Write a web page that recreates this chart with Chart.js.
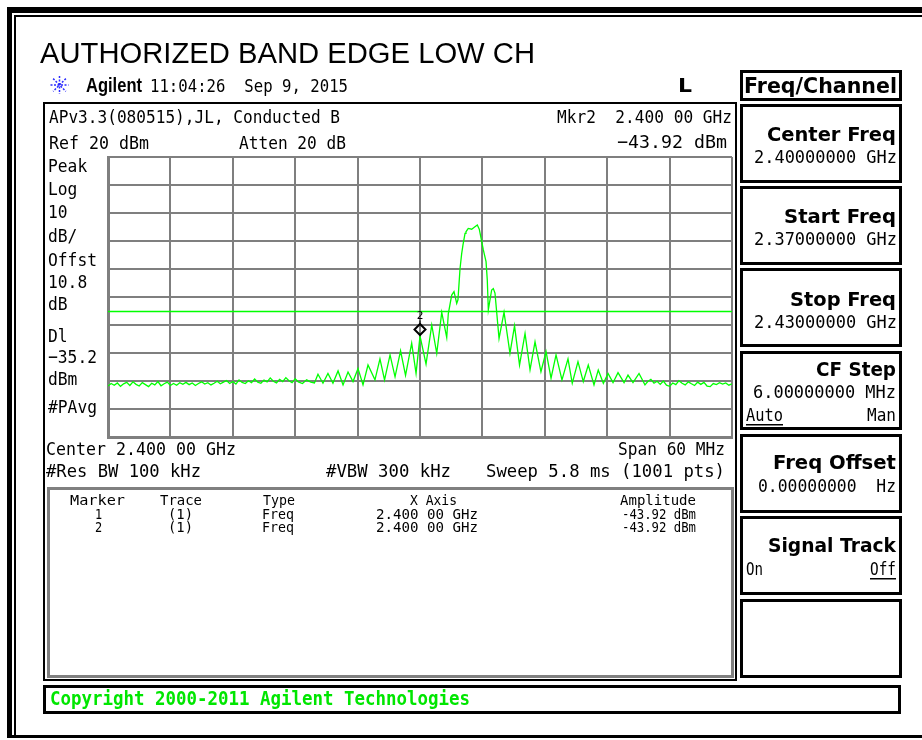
<!DOCTYPE html>
<html><head><meta charset="utf-8">
<style>html,body{margin:0;padding:0;background:#fff;overflow:hidden}canvas{display:block}</style>
<script src="https://cdn.jsdelivr.net/npm/chart.js@4.4.0/dist/chart.umd.min.js"></script>
</head><body><canvas id="c" width="922" height="740"></canvas>
<script>
// ---- data ----
const titleText = 'AUTHORIZED BAND EDGE LOW CH';
const startMHz = 2370, stopMHz = 2430, mhzPerDiv = 6;
const refLevel = 20, bottomLevel = -80, dbPerDiv = 10;
const displayLineDbm = -35.2;
const markerMHz = 2400.0, markerDbm = -43.92;

const traceMHz = [
 2370.0,2370.3,2370.6,2370.9,2371.2,2371.5,2371.8,2372.1,2372.4,2372.7,
 2373.0,2373.3,2373.6,2373.9,2374.2,2374.5,2374.8,2375.1,2375.4,2375.7,
 2376.0,2376.3,2376.6,2376.9,2377.2,2377.5,2377.8,2378.1,2378.4,2378.7,
 2379.0,2379.3,2379.6,2379.9,2380.2,2380.5,2380.8,2381.1,2381.4,2381.7,
 2382.0,2382.3,2382.6,2382.9,2383.2,2383.5,2383.8,2384.1,2384.4,2384.7,
 2385.0,2385.3,2385.6,2385.9,2386.2,2386.5,2386.8,2387.1,2387.4,2387.7,2388.0,
 2388.3,2388.7,2389.1,2389.5,2389.85,
 2390.19,2390.67,2391.15,2391.63,2392.12,2392.60,2393.08,2393.56,2394.04,2394.52,
 2395.00,2395.67,2396.15,2396.59,2397.12,2397.60,2398.13,2398.61,2399.20,2399.62,
 2400.00,2400.58,2401.13,2401.61,2402.09,2402.57,2402.72,2403.05,2403.27,2403.53,
 2403.65,2403.85,2404.01,2404.13,2404.33,2404.42,2404.64,2404.97,2405.22,2405.51,
 2405.70,2405.87,2406.09,2406.35,2406.47,2406.57,2406.89,2407.05,2407.21,2407.60,
 2408.08,2408.65,2409.09,2409.57,2410.10,2410.58,2411.06,2411.63,2412.12,2412.60,
 2413.08,2413.65,2414.23,2414.64,2415.19,2415.70,2416.18,2416.73,2417.14,2417.63,
 2418.08,2418.56,2419.04,2419.62,2420.00,2420.48,2421.06,2421.63,
 2421.9,2422.2,2422.5,2422.8,2423.1,2423.4,2423.7,2424.0,2424.3,2424.6,
 2424.9,2425.2,2425.5,2425.8,2426.1,2426.4,2426.7,2427.0,2427.3,2427.6,
 2427.9,2428.2,2428.5,2428.8,2429.1,2429.4,2429.7,2430.0
];
const traceDbm = [
 -61.8,-60.9,-61.5,-60.7,-61.9,-61.0,-60.5,-61.6,-60.3,-61.2,
 -61.8,-60.6,-61.3,-62.0,-60.8,-61.4,-60.2,-61.7,-61.0,-60.4,
 -61.6,-60.9,-61.5,-60.6,-61.2,-60.5,-61.3,-60.7,-61.6,-60.9,
 -60.3,-61.1,-60.6,-61.4,-60.8,-60.1,-61.0,-60.4,-59.8,-60.9,
 -60.2,-61.1,-59.6,-60.5,-60.9,-59.9,-60.6,-59.3,-60.4,-60.8,
 -59.7,-60.3,-58.9,-60.1,-60.7,-59.4,-60.2,-58.8,-59.9,-60.6,-59.2,
 -60.3,-60.9,-59.6,-60.4,-60.7,
 -57.6,-60.8,-57.3,-60.8,-56.4,-61.4,-56.8,-60.2,-55.5,-61.4,
 -54.3,-59.6,-52.1,-59.6,-50.7,-58.5,-49.2,-58.0,-46.5,-57.3,
 -43.92,-54.0,-40.0,-50.1,-35.5,-44.5,-36.0,-29.3,-28.1,-32.3,
 -31.0,-19.8,-14.4,-11.5,-7.3,-6.7,-5.5,-5.8,-5.1,-4.3,
 -5.8,-9.0,-13.2,-17.4,-23.9,-34.6,-27.5,-27.0,-28.6,-44.8,
 -35.4,-50.1,-40.3,-54.3,-43.0,-56.0,-46.0,-56.7,-49.5,-59.0,
 -50.7,-59.6,-52.1,-60.8,-53.1,-60.2,-54.3,-61.4,-56.1,-60.8,
 -57.3,-60.6,-57.0,-60.6,-57.9,-60.6,-57.3,-61.4,
 -60.2,-59.4,-60.8,-60.1,-61.2,-60.0,-61.5,-61.9,-60.7,-61.3,
 -59.9,-60.8,-61.4,-60.3,-61.0,-61.6,-60.4,-61.2,-60.5,-61.8,
 -62.0,-60.9,-61.3,-60.6,-61.1,-60.7,-61.5,-61.0
];

// ---- drawing helpers ----
const MONO = '"DejaVu Sans Mono", monospace';
const SANS = '"DejaVu Sans", sans-serif';
const ARIAL = '"Liberation Sans", Arial, sans-serif';

function T(ctx, s, x, y, o) {
  o = o || {};
  ctx.save();
  ctx.font = (o.b ? 'bold ' : '') + (o.size || 18.5) + 'px ' + (o.f || MONO);
  ctx.fillStyle = o.c || '#000';
  ctx.textBaseline = 'alphabetic';
  ctx.textAlign = 'left';
  const m = ctx.measureText(s).width;
  const sx = o.w ? o.w / m : (o.sx || 0.88);
  const W = m * sx;
  const x0 = o.a === 'r' ? x - W : (o.a === 'c' ? x - W / 2 : x);
  ctx.translate(x0, y);
  ctx.scale(sx, 1);
  ctx.fillText(s, 0, 0);
  ctx.restore();
}

const instrument = {
  id: 'instrument',
  afterDraw(chart) {
    const ctx = chart.ctx;
    ctx.save();
    // outer frame
    ctx.fillStyle = '#000';
    ctx.fillRect(7, 7, 915, 6);
    ctx.fillRect(7, 7, 5, 731);
    ctx.fillRect(14, 15, 908, 2);
    ctx.fillRect(14, 15, 2, 720);
    ctx.fillRect(7, 735, 915, 3);

    // title
    T(ctx, titleText, 40, 63, {f: ARIAL, size: 30, w: 495});

    // Agilent logo (snowflake)
    ctx.save();
    ctx.strokeStyle = '#2b2bff'; ctx.lineWidth = 1.5; ctx.setLineDash([2, 1.5]);
    const cx = 59.5, cy = 85, r = 9;
    for (let k = 0; k < 4; k++) {
      const a = k * Math.PI / 4;
      ctx.beginPath();
      ctx.moveTo(cx - r * Math.cos(a), cy - r * Math.sin(a));
      ctx.lineTo(cx + r * Math.cos(a), cy + r * Math.sin(a));
      ctx.stroke();
    }
    ctx.restore();
    T(ctx, 'Agilent', 86, 92, {f: ARIAL, b: true, size: 20, w: 56});
    T(ctx, '11:04:26  Sep 9, 2015', 150, 92, {w: 198});
    T(ctx, 'L', 678, 92, {f: SANS, b: true, size: 20, w: 14});

    // screen box
    ctx.strokeStyle = '#000'; ctx.lineWidth = 2;
    ctx.strokeRect(44, 103, 692, 577);

    // screen annotations
    T(ctx, 'APv3.3(080515),JL, Conducted B', 49, 123, {w: 291});
    T(ctx, 'Mkr2  2.400 00 GHz', 732, 123, {w: 175, a: 'r'});
    T(ctx, 'Ref 20 dBm', 49, 149, {w: 100});
    T(ctx, 'Atten 20 dB', 239, 149, {w: 107});
    T(ctx, '\u221243.92 dBm', 727, 148, {w: 110, a: 'r'});
    const leftLabels = [['Peak',172],['Log',195],['10',218],['dB/',242],['Offst',266],
      ['10.8',288],['dB',310],['Dl',342],['\u221235.2',363],['dBm',385],['#PAvg',413]];
    leftLabels.forEach(([s, y]) => T(ctx, s, 48, y));
    T(ctx, 'Center 2.400 00 GHz', 46, 455, {w: 190});
    T(ctx, 'Span 60 MHz', 725, 455, {w: 107, a: 'r'});
    T(ctx, '#Res BW 100 kHz', 46, 477, {w: 155});
    T(ctx, '#VBW 300 kHz', 326, 477, {w: 125});
    T(ctx, 'Sweep 5.8 ms (1001 pts)', 725, 477, {w: 239, a: 'r'});

    // marker table
    ctx.strokeStyle = '#808080'; ctx.lineWidth = 3;
    ctx.strokeRect(48.5, 488.5, 684, 188);
    const ts = 13.5;
    T(ctx, 'Marker', 70, 505, {size: ts, w: 55});
    T(ctx, 'Trace', 160, 505, {size: ts, w: 42});
    T(ctx, 'Type', 263, 505, {size: ts, w: 32});
    T(ctx, 'X Axis', 410, 505, {size: ts, w: 47});
    T(ctx, 'Amplitude', 620, 505, {size: ts, w: 76});
    [['1', 519], ['2', 532]].forEach(([m, y]) => {
      T(ctx, m, 95, y, {size: ts});
      T(ctx, '(1)', 168, y, {size: ts, w: 25});
      T(ctx, 'Freq', 262, y, {size: ts, w: 32});
      T(ctx, '2.400 00 GHz', 376, y, {size: ts, w: 102});
      T(ctx, '-43.92 dBm', 622, y, {size: ts, w: 74});
    });

    // softkeys
    ctx.strokeStyle = '#000'; ctx.lineWidth = 3;
    ctx.strokeRect(741.5, 71.5, 159, 28);
    T(ctx, 'Freq/Channel', 744, 93, {f: SANS, b: true, size: 21, w: 153});
    [105, 187, 269, 352, 435, 517, 600].forEach(t => ctx.strokeRect(741.5, t + 0.5, 159, 76));
    const KR = 896;
    T(ctx, 'Center Freq', KR, 141, {f: SANS, b: true, size: 20, w: 129, a: 'r'});
    T(ctx, '2.40000000 GHz', KR + 1, 163, {w: 143, a: 'r'});
    T(ctx, 'Start Freq', KR, 223, {f: SANS, b: true, size: 20, w: 112, a: 'r'});
    T(ctx, '2.37000000 GHz', KR + 1, 245, {w: 143, a: 'r'});
    T(ctx, 'Stop Freq', KR, 306, {f: SANS, b: true, size: 20, w: 106, a: 'r'});
    T(ctx, '2.43000000 GHz', KR + 1, 328, {w: 143, a: 'r'});
    T(ctx, 'CF Step', KR, 376, {f: SANS, b: true, size: 20, w: 80, a: 'r'});
    T(ctx, '6.00000000 MHz', KR, 398, {w: 143, a: 'r'});
    T(ctx, 'Auto', 746, 421, {w: 37});
    ctx.fillStyle = '#000'; ctx.fillRect(746, 424, 37, 1.5);
    T(ctx, 'Man', KR, 421, {w: 29, a: 'r'});
    T(ctx, 'Freq Offset', KR, 469, {f: SANS, b: true, size: 20, w: 123, a: 'r'});
    T(ctx, '0.00000000  Hz', KR, 492, {w: 138, a: 'r'});
    T(ctx, 'Signal Track', KR, 552, {f: SANS, b: true, size: 20, w: 128, a: 'r'});
    T(ctx, 'On', 746, 575, {w: 17});
    T(ctx, 'Off', KR, 575, {w: 26, a: 'r'});
    ctx.fillRect(870, 578, 26, 1.5);

    // copyright
    ctx.strokeStyle = '#000'; ctx.lineWidth = 3;
    ctx.strokeRect(44.5, 686.5, 855, 26);
    T(ctx, 'Copyright 2000-2011 Agilent Technologies', 50, 705, {b: true, size: 19.5, c: '#00e600', w: 420});

    // marker 2
    const xs = chart.scales.x, ys = chart.scales.y;
    const px = xs.getPixelForValue(markerMHz), py = ys.getPixelForValue(markerDbm);
    ctx.strokeStyle = '#000'; ctx.lineWidth = 2; ctx.setLineDash([]);
    ctx.beginPath();
    ctx.moveTo(px, py - 1); ctx.lineTo(px + 5.5, py - 6.5);
    ctx.lineTo(px, py - 12); ctx.lineTo(px - 5.5, py - 6.5); ctx.closePath();
    ctx.stroke();
    ctx.lineWidth = 1;
    ctx.beginPath(); ctx.moveTo(px, py - 12); ctx.lineTo(px, py - 15.5); ctx.stroke();
    T(ctx, '2', px, py - 16.5, {size: 11, a: 'c', sx: 1});
    ctx.restore();
  }
};

new Chart(document.getElementById('c'), {
  type: 'line',
  data: {
    datasets: [
      {
        data: [{x: startMHz, y: displayLineDbm}, {x: stopMHz, y: displayLineDbm}],
        borderColor: '#00ff00', borderWidth: 1.5, pointRadius: 0
      },
      {
        data: traceMHz.map((f, i) => ({x: f, y: traceDbm[i]})),
        borderColor: '#00ff00', borderWidth: 1.3, pointRadius: 0, tension: 0
      }
    ]
  },
  options: {
    responsive: false,
    animation: false,
    events: [],
    layout: {padding: {left: 108, right: 190, top: 157, bottom: 303}},
    plugins: {legend: {display: false}, tooltip: {enabled: false}},
    scales: {
      x: {
        type: 'linear', min: startMHz, max: stopMHz,
        ticks: {display: false, stepSize: mhzPerDiv},
        grid: {color: '#7f7f7f', lineWidth: 2, drawTicks: false},
        border: {display: true, color: '#7f7f7f', width: 3}
      },
      y: {
        type: 'linear', min: bottomLevel, max: refLevel,
        ticks: {display: false, stepSize: dbPerDiv},
        grid: {color: '#7f7f7f', lineWidth: 2, drawTicks: false},
        border: {display: true, color: '#7f7f7f', width: 3}
      }
    }
  },
  plugins: [instrument]
});
</script>
</body></html>
